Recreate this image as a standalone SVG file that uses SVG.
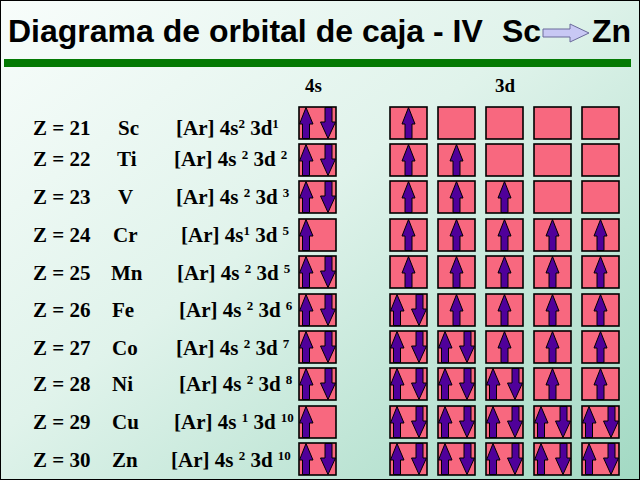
<svg xmlns="http://www.w3.org/2000/svg" xmlns:xlink="http://www.w3.org/1999/xlink" width="640" height="480" viewBox="0 0 640 480">
<defs>
<linearGradient id="bg" x1="0" y1="0" x2="1" y2="1">
<stop offset="0" stop-color="#f8fdfb"/>
<stop offset="0.45" stop-color="#e0f3eb"/>
<stop offset="1" stop-color="#a2d9c3"/>
</linearGradient>
<style>
.box{fill:#f8687f;stroke:#000;stroke-width:1.6}
.arr{fill:#50009a;stroke:#000;stroke-width:1;stroke-linejoin:miter}
.t{font-family:"Liberation Serif","Times New Roman",serif;font-weight:bold;font-size:21px;fill:#000}
.sup{font-size:13px}
.hd{font-family:"Liberation Serif","Times New Roman",serif;font-weight:bold;font-size:19px;fill:#000}
.title{font-family:"Liberation Sans",Arial,sans-serif;font-weight:bold;font-size:32px;fill:#000}
</style>
<rect id="bx" width="37" height="32" class="box"/>
<path id="upL" class="arr" d="M7 0.5 L14 17 L10.5 17 L10.5 31.5 L3.5 31.5 L3.5 17 L0.5 17 Z"/>
<path id="dnR" class="arr" d="M29 31.5 L36.5 15 L33 15 L33 0.5 L26 0.5 L26 15 L21.5 15 Z"/>
<path id="upC" class="arr" d="M18.5 0.5 L25 17 L22 17 L22 31.5 L15 31.5 L15 17 L12 17 Z"/>
<g id="E"><use xlink:href="#bx"/></g>
<g id="U"><use xlink:href="#bx"/><use xlink:href="#upC"/></g>
<g id="P"><use xlink:href="#bx"/><use xlink:href="#upL"/><use xlink:href="#dnR"/></g>
<g id="S"><use xlink:href="#bx"/><use xlink:href="#upL"/></g>
</defs>
<rect width="640" height="480" fill="url(#bg)"/>
<rect x="0.5" y="0.5" width="639" height="479" fill="none" stroke="#000" stroke-width="1"/>

<g id="title">
<text class="title" x="8" y="42">Diagrama de orbital de caja - IV<tspan x="502">Sc</tspan></text>
<path d="M543 29 L570 29 L570 24 L589 33 L570 42 L570 37 L543 37 Z" fill="#c8c8f4" stroke="#6a6a9a" stroke-width="1"/>
<text class="title" x="592" y="42">Zn</text>
<rect x="4" y="59" width="627" height="8" fill="#047a04"/>
</g>

<g id="headers">
<text class="hd" x="305" y="92">4s</text>
<text class="hd" x="495" y="92">3d</text>
</g>

<g id="row21">
<text class="t" x="33" y="135">Z = 21</text>
<text class="t" x="118" y="135">Sc</text>
<text class="t" x="176" y="135">[Ar] 4s<tspan class="sup" dy="-7">2</tspan><tspan dy="7"> 3d</tspan><tspan class="sup" dy="-7">1</tspan></text>
<use xlink:href="#P" x="299" y="107"/>
<use xlink:href="#U" x="390" y="107"/><use xlink:href="#E" x="438" y="107"/><use xlink:href="#E" x="486" y="107"/><use xlink:href="#E" x="534" y="107"/><use xlink:href="#E" x="582" y="107"/>
</g>

<g id="row22">
<text class="t" x="33" y="166">Z = 22</text>
<text class="t" x="117" y="166">Ti</text>
<text class="t" x="174" y="166">[Ar] 4s <tspan class="sup" dy="-7">2</tspan><tspan dy="7"> 3d </tspan><tspan class="sup" dy="-7">2</tspan></text>
<use xlink:href="#P" x="299" y="144"/>
<use xlink:href="#U" x="390" y="144"/><use xlink:href="#U" x="438" y="144"/><use xlink:href="#E" x="486" y="144"/><use xlink:href="#E" x="534" y="144"/><use xlink:href="#E" x="582" y="144"/>
</g>

<g id="row23">
<text class="t" x="33" y="204">Z = 23</text>
<text class="t" x="118" y="204">V</text>
<text class="t" x="176" y="204">[Ar] 4s <tspan class="sup" dy="-7">2</tspan><tspan dy="7"> 3d </tspan><tspan class="sup" dy="-7">3</tspan></text>
<use xlink:href="#P" x="299" y="181"/>
<use xlink:href="#U" x="390" y="181"/><use xlink:href="#U" x="438" y="181"/><use xlink:href="#U" x="486" y="181"/><use xlink:href="#E" x="534" y="181"/><use xlink:href="#E" x="582" y="181"/>
</g>

<g id="row24">
<text class="t" x="33" y="242">Z = 24</text>
<text class="t" x="113" y="242">Cr</text>
<text class="t" x="181" y="242">[Ar] 4s<tspan class="sup" dy="-7">1</tspan><tspan dy="7"> 3d </tspan><tspan class="sup" dy="-7">5</tspan></text>
<use xlink:href="#S" x="299" y="219"/>
<use xlink:href="#U" x="390" y="219"/><use xlink:href="#U" x="438" y="219"/><use xlink:href="#U" x="486" y="219"/><use xlink:href="#U" x="534" y="219"/><use xlink:href="#U" x="582" y="219"/>
</g>

<g id="row25">
<text class="t" x="33" y="280">Z = 25</text>
<text class="t" x="111" y="280">Mn</text>
<text class="t" x="177" y="280">[Ar] 4s <tspan class="sup" dy="-7">2</tspan><tspan dy="7"> 3d </tspan><tspan class="sup" dy="-7">5</tspan></text>
<use xlink:href="#P" x="299" y="256"/>
<use xlink:href="#U" x="390" y="256"/><use xlink:href="#U" x="438" y="256"/><use xlink:href="#U" x="486" y="256"/><use xlink:href="#U" x="534" y="256"/><use xlink:href="#U" x="582" y="256"/>
</g>

<g id="row26">
<text class="t" x="33" y="317">Z = 26</text>
<text class="t" x="112" y="317">Fe</text>
<text class="t" x="179" y="317">[Ar] 4s <tspan class="sup" dy="-7">2</tspan><tspan dy="7"> 3d </tspan><tspan class="sup" dy="-7">6</tspan></text>
<use xlink:href="#P" x="299" y="294"/>
<use xlink:href="#P" x="390" y="294"/><use xlink:href="#U" x="438" y="294"/><use xlink:href="#U" x="486" y="294"/><use xlink:href="#U" x="534" y="294"/><use xlink:href="#U" x="582" y="294"/>
</g>

<g id="row27">
<text class="t" x="33" y="355">Z = 27</text>
<text class="t" x="112" y="355">Co</text>
<text class="t" x="176" y="355">[Ar] 4s <tspan class="sup" dy="-7">2</tspan><tspan dy="7"> 3d </tspan><tspan class="sup" dy="-7">7</tspan></text>
<use xlink:href="#P" x="299" y="331"/>
<use xlink:href="#P" x="390" y="331"/><use xlink:href="#P" x="438" y="331"/><use xlink:href="#U" x="486" y="331"/><use xlink:href="#U" x="534" y="331"/><use xlink:href="#U" x="582" y="331"/>
</g>

<g id="row28">
<text class="t" x="33" y="391">Z = 28</text>
<text class="t" x="112" y="391">Ni</text>
<text class="t" x="179" y="391">[Ar] 4s <tspan class="sup" dy="-7">2</tspan><tspan dy="7"> 3d </tspan><tspan class="sup" dy="-7">8</tspan></text>
<use xlink:href="#P" x="299" y="368"/>
<use xlink:href="#P" x="390" y="368"/><use xlink:href="#P" x="438" y="368"/><use xlink:href="#P" x="486" y="368"/><use xlink:href="#U" x="534" y="368"/><use xlink:href="#U" x="582" y="368"/>
</g>

<g id="row29">
<text class="t" x="33" y="429">Z = 29</text>
<text class="t" x="112" y="429">Cu</text>
<text class="t" x="174" y="429">[Ar] 4s <tspan class="sup" dy="-7">1</tspan><tspan dy="7"> 3d </tspan><tspan class="sup" dy="-7">10</tspan></text>
<use xlink:href="#S" x="299" y="406"/>
<use xlink:href="#P" x="390" y="406"/><use xlink:href="#P" x="438" y="406"/><use xlink:href="#P" x="486" y="406"/><use xlink:href="#P" x="534" y="406"/><use xlink:href="#P" x="582" y="406"/>
</g>

<g id="row30">
<text class="t" x="33" y="467">Z = 30</text>
<text class="t" x="112" y="467">Zn</text>
<text class="t" x="171" y="467">[Ar] 4s <tspan class="sup" dy="-7">2</tspan><tspan dy="7"> 3d </tspan><tspan class="sup" dy="-7">10</tspan></text>
<use xlink:href="#P" x="299" y="443"/>
<use xlink:href="#P" x="390" y="443"/><use xlink:href="#P" x="438" y="443"/><use xlink:href="#P" x="486" y="443"/><use xlink:href="#P" x="534" y="443"/><use xlink:href="#P" x="582" y="443"/>
</g>
</svg>
